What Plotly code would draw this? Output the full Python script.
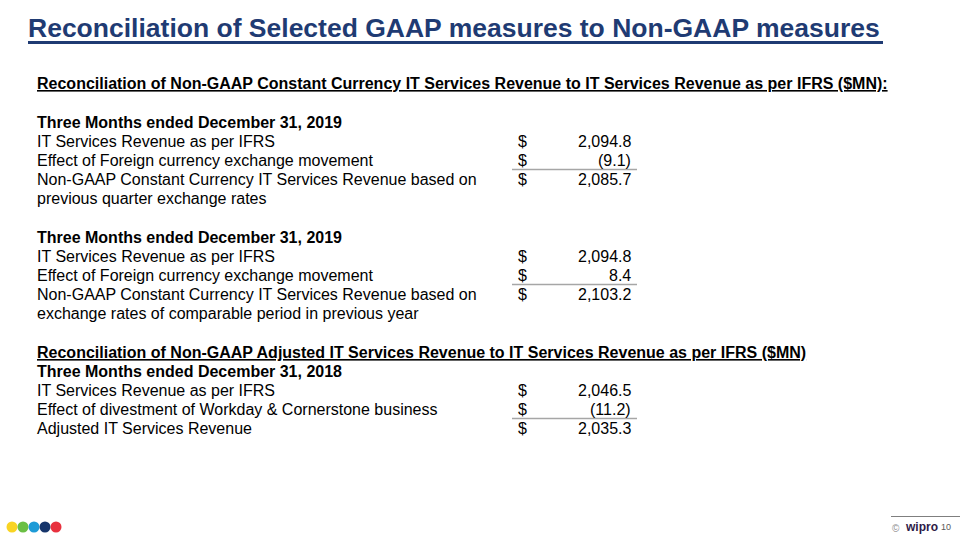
import plotly.graph_objects as go

title_text = "Reconciliation of Selected GAAP measures to Non-GAAP measures"

header1 = "Reconciliation of Non-GAAP Constant Currency IT Services Revenue to IT Services Revenue as per IFRS ($MN):"
header2 = "Reconciliation of Non-GAAP Adjusted IT Services Revenue to IT Services Revenue as per IFRS ($MN)"

period_labels = ["Three Months ended December 31, 2019",
                 "Three Months ended December 31, 2019",
                 "Three Months ended December 31, 2018"]

block1_labels = ["IT Services Revenue as per IFRS",
                 "Effect of Foreign currency exchange movement",
                 "Non-GAAP Constant Currency IT Services Revenue based on",
                 "previous quarter exchange rates"]
block1_values = [2094.8, -9.1, 2085.7]

block2_labels = ["IT Services Revenue as per IFRS",
                 "Effect of Foreign currency exchange movement",
                 "Non-GAAP Constant Currency IT Services Revenue based on",
                 "exchange rates of comparable period in previous year"]
block2_values = [2094.8, 8.4, 2103.2]

block3_labels = ["IT Services Revenue as per IFRS",
                 "Effect of divestment of Workday & Cornerstone business",
                 "Adjusted IT Services Revenue"]
block3_values = [2046.5, -11.2, 2035.3]

dot_colors = ["#F9D423", "#6BBF45", "#1E9BD7", "#16356B", "#E8313E"]

NAVY = "#1F3B73"
BODY_FONT = "Liberation Sans, Arial, sans-serif"
TEXT_SIZE = 16


def fmt(v):
    if v < 0:
        return "({:,.1f})".format(-v)
    return "{:,.1f}".format(v)


fig = go.Figure()
ann = []
shapes = []

LEFT = 35
DOLLAR_X = 522.5
NUM_X = 633
ROW_H = 19


def add_text(x, y, text, bold=False, anchor="left", size=TEXT_SIZE, color="#000000", font=BODY_FONT):
    t = "<b>" + text + "</b>" if bold else text
    ann.append(dict(x=x, y=y, xref="x", yref="y", text=t, showarrow=False,
                    xanchor=anchor, yanchor="middle",
                    font=dict(family=font, size=size, color=color)))


# title
add_text(26, 28, title_text, bold=True, size=26.5, color=NAVY)
shapes.append(dict(type="line", xref="x", yref="y", x0=28, x1=883, y0=42.5, y1=42.5,
                   line=dict(color=NAVY, width=3)))

# header 1
add_text(LEFT, 83, "<u>" + header1 + "</u>", bold=True)


def add_block(y0, period, labels, values):
    add_text(LEFT, y0, period, bold=True)
    y = y0 + ROW_H
    for i, lab in enumerate(labels):
        add_text(LEFT, y, lab)
        if i < len(values):
            add_text(DOLLAR_X, y, "$", anchor="center")
            add_text(NUM_X, y, fmt(values[i]), anchor="right")
            if i == 1:
                shapes.append(dict(type="line", xref="x", yref="y", x0=512, x1=637,
                                   y0=y + 9.5, y1=y + 9.5,
                                   line=dict(color="#A6A6A6", width=1.5)))
        y += ROW_H


add_block(122, period_labels[0], block1_labels, block1_values)
add_block(237, period_labels[1], block2_labels, block2_values)
add_text(LEFT, 352, "<u>" + header2 + "</u>", bold=True)
add_block(371, period_labels[2], block3_labels, block3_values)

# bottom-left dots
for i, c in enumerate(dot_colors):
    cx = 12 + i * 11
    shapes.append(dict(type="circle", xref="x", yref="y", x0=cx - 5.5, x1=cx + 5.5,
                       y0=521.5, y1=532.5, fillcolor=c, line=dict(width=0)))

# bottom-right footer
shapes.append(dict(type="line", xref="x", yref="y", x0=891, x1=960, y0=516.5, y1=516.5,
                   line=dict(color="#7F7F7F", width=1)))
add_text(896, 528, "©", size=10, color="#8C8C8C", anchor="center")
add_text(903, 527, "<b>wipro</b>", size=12, color="#2E1A47")
add_text(946, 527, "10", size=9, color="#595959", anchor="center")

fig.update_layout(
    width=960, height=540,
    margin=dict(l=0, r=0, t=0, b=0),
    paper_bgcolor="white", plot_bgcolor="white",
    xaxis=dict(range=[0, 960], visible=False, fixedrange=True),
    yaxis=dict(range=[540, 0], visible=False, fixedrange=True),
    annotations=ann, shapes=shapes, showlegend=False,
)

fig.write_html("out.html", config={"displayModeBar": False},
               post_script="document.body.style.margin='0';document.body.style.overflow='hidden';")
